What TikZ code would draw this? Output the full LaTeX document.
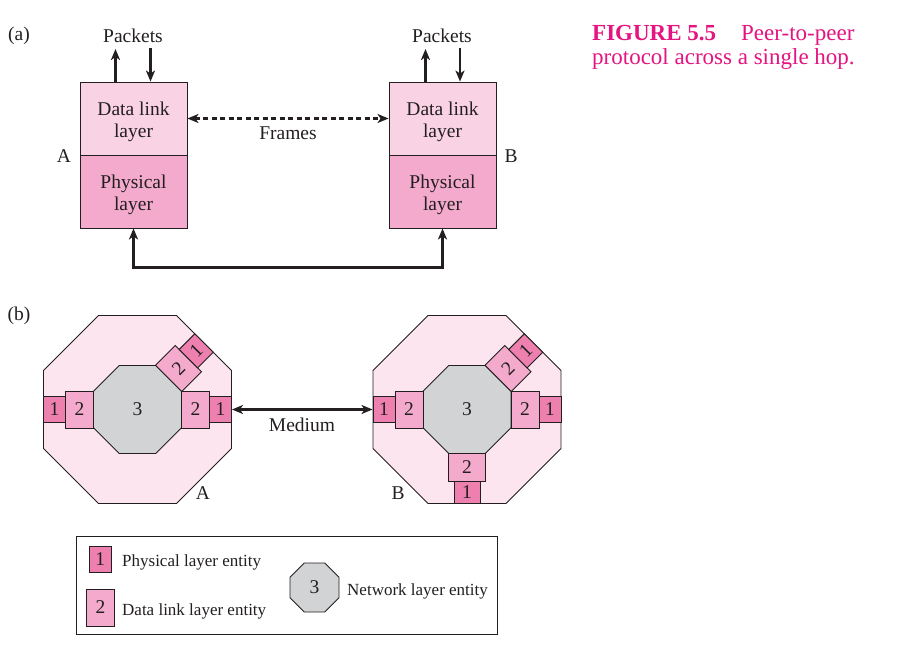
\documentclass[tikz,border=0pt]{standalone}
\usepackage{fontspec}
\setmainfont{Liberation Serif}
\usetikzlibrary{arrows.meta}
\definecolor{ttl}{RGB}{228,20,128}
\definecolor{cpale}{RGB}{252,229,239}
\definecolor{cdl}{RGB}{249,211,228}
\definecolor{cph}{RGB}{243,170,204}
\definecolor{cone}{RGB}{238,128,176}
\definecolor{cgray}{RGB}{209,211,212}
\definecolor{ink}{RGB}{35,31,32}
\newcommand\octshape[4][]{\draw[#1] ({#2-#4*0.41421},{#3-#4}) -- ({#2+#4*0.41421},{#3-#4}) -- ({#2+#4},{#3-#4*0.41421}) -- ({#2+#4},{#3+#4*0.41421}) -- ({#2+#4*0.41421},{#3+#4}) -- ({#2-#4*0.41421},{#3+#4}) -- ({#2-#4},{#3+#4*0.41421}) -- ({#2-#4},{#3-#4*0.41421}) -- cycle;}
\begin{document}
\begin{tikzpicture}[x=1pt,y=-1pt,
  font=\fontsize{19.5}{22}\selectfont,
  lay/.style={draw=ink, line width=0.9pt, minimum width=107pt, minimum height=73pt, inner sep=0pt},
  txt/.style={inner sep=0pt, text=ink},
  arr/.style={draw=ink, line width=2.2pt, -{Stealth[length=11pt,width=9pt,inset=3pt]}},
  dbl/.style={draw=ink, line width=2.2pt, {Stealth[length=11pt,width=9pt,inset=3pt]}-{Stealth[length=11pt,width=9pt,inset=3pt]}},
  dsh/.style={draw=ink, line width=2.2pt, dash pattern=on 5pt off 3.5pt, {Stealth[length=11pt,width=9pt,inset=3pt]}-{Stealth[length=11pt,width=9pt,inset=3pt]}},
  bone/.style={draw=ink, line width=0.9pt, fill=cone, minimum width=22pt, minimum height=26pt, inner sep=0pt, text=ink},
  btwo/.style={draw=ink, line width=0.9pt, fill=cph, minimum width=28pt, minimum height=37pt, inner sep=0pt, text=ink},
  octo/.style={draw=ink, line width=0.9pt, line join=miter},
  ttlf/.style={inner sep=0pt, text=ttl, anchor=base west, font=\fontsize{23}{26}\selectfont},
  legf/.style={inner sep=0pt, text=ink, anchor=west, font=\fontsize{17}{20}\selectfont}
]
\useasboundingbox[fill=white] (0,0) rectangle (911,648);

% ---------- title ----------
\node[ttlf, font=\fontsize{23}{26}\selectfont\bfseries] (fig) at (592,40) {FIGURE 5.5};
\node[ttlf] (cap1) at (741,40) {Peer-to-peer};
\node[ttlf] (cap2) at (592,64) {protocol across a single hop.};

% ---------- (a) ----------
\node[txt] (la) at (19,36) {(a)};
\node[lay, fill=cdl] (dlA) at (133.5,118.5) {};
\node[lay, fill=cph] (phA) at (133.5,191.5) {};
\node[lay, fill=cdl] (dlB) at (442.5,118.5) {};
\node[lay, fill=cph] (phB) at (442.5,191.5) {};
\node[txt, align=center] (dlAt) at (133.5,121.5) {Data link\\layer};
\node[txt, align=center] (phAt) at (133.5,194.5) {Physical\\layer};
\node[txt, align=center] (dlBt) at (442.5,121.5) {Data link\\layer};
\node[txt, align=center] (phBt) at (442.5,194.5) {Physical\\layer};
\node[txt] (nA) at (64,156) {A};
\node[txt] (nB) at (511,156) {B};

\node[txt] (pkA) at (133,36) {Packets};
\node[txt] (pkB) at (442,36) {Packets};
\coordinate (pAu) at (115.5,49);
\coordinate (pAd) at (150.5,48);
\coordinate (pBu) at (425.5,49);
\coordinate (pBd) at (460,48);
\draw[arr] (pAu |- dlA.north) -- (pAu);
\draw[arr] (pAd) -- (pAd |- dlA.north);
\draw[arr] (pBu |- dlB.north) -- (pBu);
\draw[arr] (pBd) -- (pBd |- dlB.north);

\draw[dsh] (dlA.east) -- (dlB.west);
\node[txt] (frm) at (288,133) {Frames};
\draw[dbl] (phA.south) -- ++(0,39) -| (phB.south);

% ---------- (b) ----------
\node[txt] (lb) at (19,316) {(b)};

% octagon A
\octshape[octo, fill=cpale]{137.5}{409.5}{94}
\octshape[octo, fill=cgray]{137.5}{409.5}{44}
\node[txt] (a3) at (137.5,409.5) {3};
\node[btwo] (aW2) at (79.5,409.5) {2};
\node[bone] (aW1) at (54.5,409.5) {1};
\node[btwo] (aE2) at (195.5,409.5) {2};
\node[bone] (aE1) at (220.5,409.5) {1};
\node[btwo, rotate=45] (aN2) at (178.5,368.5) {2};
\node[bone, rotate=45] (aN1) at (196.2,350.8) {1};
\node[txt] (oA) at (203,493) {A};

% octagon B
\octshape[octo, fill=cpale]{467}{409.5}{94}
\octshape[octo, fill=cgray]{467}{409.5}{44}
\node[txt] (b3) at (467,409.5) {3};
\node[btwo] (bW2) at (409,409.5) {2};
\node[bone] (bW1) at (384,409.5) {1};
\node[btwo] (bE2) at (525,409.5) {2};
\node[bone] (bE1) at (550,409.5) {1};
\node[btwo, rotate=45] (bN2) at (508,368.5) {2};
\node[bone, rotate=45] (bN1) at (525.7,350.8) {1};
\node[btwo, minimum width=37pt, minimum height=28pt] (bS2) at (467,467.5) {2};
\node[bone, minimum width=26pt, minimum height=22pt] (bS1) at (467,492.5) {1};
\node[txt] (oB) at (398,493) {B};

\draw[dbl] (aE1.east) -- (bW1.west);
\node[txt] (med) at (302,425) {Medium};

% ---------- legend ----------
\node[draw=ink, line width=0.9pt, minimum width=421pt, minimum height=98pt, inner sep=0pt] (leg) at (287.2,585.9) {};
\node[bone] (l1) at (100.3,559.5) {1};
\node[btwo] (l2) at (100.5,607.5) {2};
\node[legf] (t1) at (122,562) {Physical layer entity};
\node[legf] (t2) at (122,611) {Data link layer entity};
\octshape[octo, fill=cgray]{314.5}{587.5}{24.5}
\node[txt] (l3) at (314.5,587.5) {3};
\node[legf] (t3) at (347,591) {Network layer entity};
\end{tikzpicture}
\end{document}
